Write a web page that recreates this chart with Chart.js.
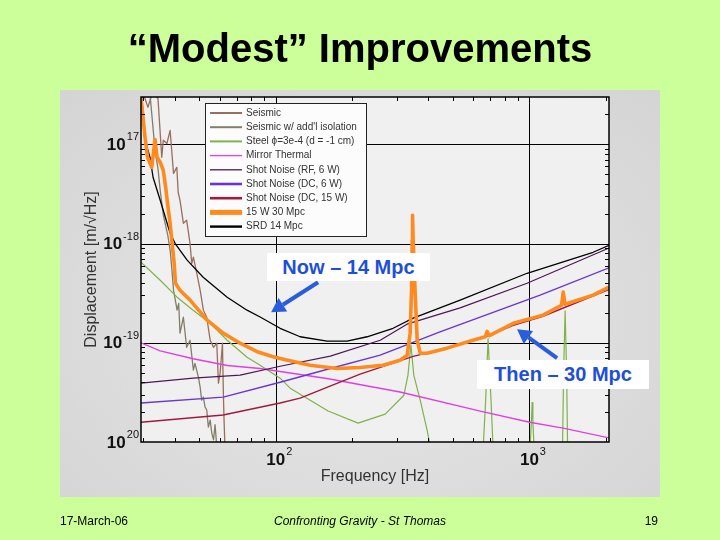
<!DOCTYPE html>
<html><head><meta charset="utf-8">
<script src="https://cdn.jsdelivr.net/npm/chart.js@4/dist/chart.umd.min.js"></script>
<style>
html,body{margin:0;padding:0;}
body{width:720px;height:540px;background:#ccff99;position:relative;overflow:hidden;font-family:"Liberation Sans",Arial,sans-serif;}
#panel{position:absolute;left:60px;top:90px;width:600px;height:407px;background:radial-gradient(ellipse at 50% 55%,#e8e8e8 0%,#dcdcdc 60%,#d4d4d4 100%);}
#c{position:absolute;left:0;top:0;}
#title{position:absolute;left:0;width:720px;top:28px;text-align:center;font-weight:bold;font-size:40px;line-height:40px;color:#000;}
.foot{position:absolute;top:514px;font-size:12px;line-height:14px;color:#000;}
.note{position:absolute;background:#fff;color:#1f4fd8;font-weight:bold;font-size:20px;text-align:center;}
</style></head>
<body>
<div id="panel"></div>
<canvas id="c" width="720" height="540"></canvas>
<div id="title">“Modest” Improvements</div>
<div class="note" style="left:267px;top:253px;width:163px;height:28px;line-height:28px;">Now – 14 Mpc</div>
<div class="note" style="left:477px;top:360px;width:172px;height:29px;line-height:29px;">Then – 30 Mpc</div>
<div class="foot" style="left:60px;">17-March-06</div>
<div class="foot" style="left:0;width:720px;text-align:center;font-style:italic;">Confronting Gravity - St Thomas</div>
<div class="foot" style="left:600px;width:58px;text-align:right;">19</div>
<script>
// ---------- axis ranges & ticks ----------
const xMin = 29.4, xMax = 2060;
const yMin = 1e-20, yMax = 3e-17;
const xMajorTicks = [100, 1000];
const xMinorTicks = [30,40,50,60,70,80,90,200,300,400,500,600,700,800,900,2000];
const yMajorTicks = [1e-17, 1e-18, 1e-19];
const yMinorTicks = [2e-20,3e-20,4e-20,5e-20,6e-20,7e-20,8e-20,9e-20,
                     2e-19,3e-19,4e-19,5e-19,6e-19,7e-19,8e-19,9e-19,
                     2e-18,3e-18,4e-18,5e-18,6e-18,7e-18,8e-18,9e-18,2e-17];
const xLabelValues = [100, 1000];
const xLabelExps = ['2', '3'];
const yLabelValues = [1e-17, 1e-18, 1e-19, 1e-20];
const yLabelExps = ['17', '-18', '-19', '20'];
const xTitle = 'Frequency [Hz]';
const yTitle = 'Displacement [m/√Hz]';

// ---------- series ----------
const seismicF = [29.4,30.5,31.3,32.6,34.3,35.5,36.0,37.2,38.3,39.5,40.7,41.2,41.9,43.2,44.5,45.9,46.6,47.3,48.8,50.3,51.8,53.4,55.1,56.8,58.5,59.4,60.3,61.6,62.1,62.5,63.1];
const seismicV = [5e-17,2.9e-17,2.36e-17,3.3e-17,2.9e-17,7.4e-18,1.1e-17,1.02e-17,1.38e-17,5.1e-18,5.86e-18,3.29e-18,2.73e-18,1.6e-18,1.72e-18,1.0e-18,6.3e-19,7.3e-19,5.0e-19,3.39e-19,2.13e-19,1.81e-19,1.06e-19,9.0e-20,9.9e-20,3.92e-20,4.94e-20,9.9e-20,3.1e-20,1.66e-20,8e-21];

const isoF = [31.9,33.4,34.3,35.0,36.0,37.5,38.3,39.0,39.5,40.8,41.4,41.9,43.2,44.5,45.9,46.6,47.3,48.0,49.5,50.3,51.0,51.8,52.6,53.4,54.2,55.1,55.9,56.8,57.6,58.7];
const isoV = [3.2e-17,8.7e-18,5.73e-18,3.44e-18,1.93e-18,1.21e-18,8.6e-19,5.14e-19,3.39e-19,2.13e-19,2.5e-19,1.25e-19,1.81e-19,9.0e-20,1.06e-19,7.5e-20,5.3e-20,6.2e-20,4.5e-20,3.57e-20,2.64e-20,2.83e-20,2.25e-20,2.1e-20,1.41e-20,1.66e-20,1.23e-20,1.05e-20,1.5e-20,8e-21];

const steelF = [29.4,35,40.8,47.2,55.1,64.3,77,86.7,104,113.9,160.8,211,270,320,332,341,350,371,395,410,656,672,687,706,720,1005,1018,1025,1032,1045,1350,1364,1383,1402,1415,2061];
const steelV = [6.5e-19,4.27e-19,2.88e-19,2.13e-19,1.57e-19,1.06e-19,7.16e-20,5.94e-20,4.4e-20,3.49e-20,2.05e-20,1.55e-20,1.91e-20,2.96e-20,4.72e-20,9.5e-20,4.72e-20,2.64e-20,1.32e-20,8e-21,8e-21,2.6e-20,1.1e-19,2.6e-20,8e-21,8e-21,1.6e-20,2.5e-20,1.6e-20,8e-21,8e-21,5e-20,2.1e-19,5e-20,8e-21,8e-21];

const mirrorF = [29.4,35,47.2,64.3,86.7,159,309,640,1002,1358,2061];
const mirrorV = [1e-19,8.3e-20,6.9e-20,5.9e-20,5.5e-20,4.37e-20,3.19e-20,2.05e-20,1.58e-20,1.38e-20,1.1e-20];

const shotRF6F = [29.4,47.2,72.3,104,164,258,329,533,979,2050];
const shotRF6V = [3.92e-20,4.4e-20,4.72e-20,5.8e-20,7.33e-20,1.06e-19,1.54e-19,2.25e-19,3.98e-19,8.97e-19];

const shotDC6F = [29.4,62,104,164,258,444,1102,2061];
const shotDC6V = [2.47e-20,2.83e-20,4.0e-20,5.5e-20,7.5e-20,1.29e-19,3.02e-19,5.7e-19];

const shotDC15F = [29.4,62,104,124.7,163.6,215,348,487,681,864,1131,2061];
const shotDC15V = [1.58e-20,1.87e-20,2.47e-20,2.77e-20,3.66e-20,4.83e-20,7.3e-20,9.0e-20,1.17e-19,1.5e-19,1.85e-19,3.45e-19];

const w15F = [29.4,30.5,31.2,32.4,33.4,34.0,35.0,36.0,36.9,37.4,38.3,39.0,39.7,40.2,41.9,45.9,53.6,62.0,72.3,84.4,97.6,104,136.5,174.6,214.8,264.8,309,329.6,338.5,343,345,346,348,354,361,371,395,473,599,670,681,695,864,1131,1339,1359,1382,1783,2061];
const w15V = [2.97e-17,1.18e-17,7.4e-18,5.86e-18,1.12e-17,7.4e-18,6.6e-18,5.47e-18,3.44e-18,2.55e-18,1.6e-18,1.0e-18,6.5e-19,3.98e-19,3.39e-19,2.69e-19,1.69e-19,1.25e-19,9.9e-20,8.13e-20,7.24e-20,6.95e-20,5.94e-20,5.5e-20,5.64e-20,5.94e-20,6.68e-20,7.5e-20,1.25e-19,3.39e-19,1.08e-18,1.93e-18,1.08e-18,3.39e-19,1.06e-19,7.85e-20,7.85e-20,8.83e-20,1.06e-19,1.15e-19,1.3e-19,1.18e-19,1.57e-19,1.9e-19,2.39e-19,3.24e-19,2.45e-19,3.02e-19,3.63e-19];

const srdF = [29.6,30.5,31.9,32.8,35.0,38.3,40.1,44.7,51.7,64.3,77.0,86.7,104,124.7,159.3,191,229,290,348,533,979,1783,2061];
const srdV = [3.0e-17,1.1e-17,7.4e-18,4.66e-18,2.73e-18,1.27e-18,1.0e-18,6.8e-19,4.58e-19,2.88e-19,2.13e-19,1.82e-19,1.4e-19,1.15e-19,1.04e-19,1.04e-19,1.15e-19,1.4e-19,1.77e-19,2.69e-19,5.02e-19,8.17e-19,9.6e-19];

const seriesLabels = ['Seismic', "Seismic w/ add'l isolation", 'Steel ϕ=3e-4 (d = -1 cm)', 'Mirror Thermal',
  'Shot Noise (RF, 6 W)', 'Shot Noise (DC, 6 W)', 'Shot Noise (DC, 15 W)', '15 W 30 Mpc', 'SRD 14 Mpc'];

// annotation arrows (tail -> tip), in data units
const nowArrow = {tailF:146.8, tailV:4.07e-19, tipF:95.8, tipV:2.03e-19};
const thenArrow = {tailF:1286, tailV:7.0e-20, tipF:894, tipV:1.37e-19};

function pts(F, V){ return F.map((f,i)=>({x:f, y:V[i]})); }

const styles = [
  {color:'#9a6e5c', width:1.3, lw:2, order:8},
  {color:'#837e6a', width:1.3, lw:2, order:7},
  {color:'#7fb24a', width:1.2, lw:2, order:6},
  {color:'#e23fe0', width:1.4, lw:1.3, order:5},
  {color:'#4c1856', width:1.2, lw:1.3, order:4},
  {color:'#6a35d2', width:1.4, lw:2.6, order:3},
  {color:'#a01a3e', width:1.4, lw:2.6, order:2},
  {color:'#ff8a1e', width:3.6, lw:5, order:0},
  {color:'#000000', width:1.3, lw:2.4, order:1}
];
const dataArrays = [pts(seismicF,seismicV), pts(isoF,isoV), pts(steelF,steelV), pts(mirrorF,mirrorV),
  pts(shotRF6F,shotRF6V), pts(shotDC6F,shotDC6V), pts(shotDC15F,shotDC15V), pts(w15F,w15V), pts(srdF,srdV)];

const datasets = dataArrays.map((d,i)=>({
  label: seriesLabels[i], data: d, borderColor: styles[i].color, backgroundColor: styles[i].color,
  borderWidth: styles[i].width, pointRadius: 0, tension: 0, fill: false, order: styles[i].order,
  clip: 0, borderJoinStyle: 'round', legendWidth: styles[i].lw
}));

function drawArrow(ctx, x1, y1, x2, y2){
  const ang = Math.atan2(y2-y1, x2-x1);
  const hl = 14, hw = 8;
  const bx = x2 - hl*Math.cos(ang), by = y2 - hl*Math.sin(ang);
  ctx.beginPath(); ctx.moveTo(x1,y1); ctx.lineTo(bx,by); ctx.stroke();
  ctx.beginPath();
  ctx.moveTo(x2,y2);
  ctx.lineTo(bx + hw*Math.sin(ang), by - hw*Math.cos(ang));
  ctx.lineTo(bx - hw*Math.sin(ang), by + hw*Math.cos(ang));
  ctx.closePath(); ctx.fill();
}

const decor = {
  id: 'decor',
  beforeDatasetsDraw(chart){
    const {ctx, chartArea:a, scales:{x, y}} = chart;
    ctx.save();
    ctx.fillStyle = '#f0f0f0';
    ctx.fillRect(a.left, a.top, a.right-a.left, a.bottom-a.top);
    ctx.strokeStyle = '#000'; ctx.lineWidth = 1;
    ctx.beginPath();
    xMajorTicks.forEach(v=>{ const px = Math.round(x.getPixelForValue(v))+0.5; ctx.moveTo(px,a.top); ctx.lineTo(px,a.bottom); });
    yMajorTicks.forEach(v=>{ const py = Math.round(y.getPixelForValue(v))+0.5; ctx.moveTo(a.left,py); ctx.lineTo(a.right,py); });
    ctx.stroke();
    ctx.restore();
  },
  afterDatasetsDraw(chart){
    const {ctx, chartArea:a, scales:{x, y}} = chart;
    ctx.save();
    // minor ticks
    ctx.strokeStyle = '#000'; ctx.lineWidth = 1;
    ctx.beginPath();
    xMinorTicks.forEach(v=>{ const px = Math.round(x.getPixelForValue(v))+0.5;
      ctx.moveTo(px,a.bottom); ctx.lineTo(px,a.bottom-4); ctx.moveTo(px,a.top); ctx.lineTo(px,a.top+4); });
    yMinorTicks.forEach(v=>{ const py = Math.round(y.getPixelForValue(v))+0.5;
      ctx.moveTo(a.left,py); ctx.lineTo(a.left+4,py); ctx.moveTo(a.right,py); ctx.lineTo(a.right-4,py); });
    ctx.stroke();
    ctx.lineWidth = 1.5;
    ctx.strokeRect(a.left, a.top, a.right-a.left, a.bottom-a.top);

    // x tick labels
    ctx.fillStyle = '#111'; ctx.textBaseline = 'middle';
    xLabelValues.forEach((v,i)=>{
      const px = x.getPixelForValue(v);
      ctx.font = 'bold 17px "Liberation Sans", Arial, sans-serif';
      const w = ctx.measureText('10').width;
      ctx.textAlign = 'left';
      ctx.fillText('10', px - w/2, a.bottom + 18);
      ctx.font = '11px "Liberation Sans", Arial, sans-serif';
      ctx.fillText(xLabelExps[i], px + w/2 + 1, a.bottom + 10);
    });
    // y tick labels
    yLabelValues.forEach((v,i)=>{
      const py = y.getPixelForValue(v);
      ctx.font = '11px "Liberation Sans", Arial, sans-serif';
      const ew = ctx.measureText(yLabelExps[i]).width;
      ctx.textAlign = 'left';
      const ex = a.left - 2 - Math.max(ew, 12);
      ctx.fillText(yLabelExps[i], ex, py - 7);
      ctx.font = 'bold 17px "Liberation Sans", Arial, sans-serif';
      ctx.textAlign = 'right';
      ctx.fillText('10', ex - 1, py + 1);
    });
    // axis titles
    ctx.fillStyle = '#333';
    ctx.font = '16px "Liberation Sans", Arial, sans-serif';
    ctx.textAlign = 'center';
    ctx.fillText(xTitle, (a.left+a.right)/2, a.bottom + 35);
    ctx.save();
    ctx.translate(a.left - 49, (a.top+a.bottom)/2);
    ctx.rotate(-Math.PI/2);
    ctx.fillText(yTitle, 0, 0);
    ctx.restore();

    // legend
    const lx = a.left + 64, ly = a.top + 6, lw = 161, lh = 133;
    ctx.fillStyle = '#fcfcfc';
    ctx.fillRect(lx, ly, lw, lh);
    ctx.strokeStyle = '#222'; ctx.lineWidth = 1;
    ctx.strokeRect(lx+0.5, ly+0.5, lw, lh);
    ctx.font = '10px "Liberation Sans", Arial, sans-serif';
    ctx.textAlign = 'left'; ctx.textBaseline = 'middle';
    chart.data.datasets.forEach((ds,i)=>{
      const ry = ly + 10 + i*14.2;
      ctx.strokeStyle = ds.borderColor; ctx.lineWidth = ds.legendWidth;
      ctx.beginPath(); ctx.moveTo(lx+5, ry); ctx.lineTo(lx+37, ry); ctx.stroke();
      ctx.fillStyle = '#333';
      ctx.fillText(ds.label, lx+41, ry);
    });

    // arrows
    ctx.strokeStyle = '#2a5ddc'; ctx.fillStyle = '#2a5ddc'; ctx.lineWidth = 4;
    [nowArrow, thenArrow].forEach(ar=>{
      drawArrow(ctx, x.getPixelForValue(ar.tailF), y.getPixelForValue(ar.tailV),
                     x.getPixelForValue(ar.tipF), y.getPixelForValue(ar.tipV));
    });
    ctx.restore();
  }
};

new Chart(document.getElementById('c'), {
  type: 'line',
  data: { datasets },
  options: {
    responsive: false, animation: false, devicePixelRatio: 1,
    layout: { padding: { left: 141, right: 111, top: 97, bottom: 98 } },
    plugins: { legend: { display: false }, tooltip: { enabled: false } },
    scales: {
      x: { type: 'logarithmic', min: xMin, max: xMax, display: false, bounds: 'data' },
      y: { type: 'logarithmic', min: yMin, max: yMax, display: false, bounds: 'data' }
    }
  },
  plugins: [decor]
});
</script>
</body></html>
